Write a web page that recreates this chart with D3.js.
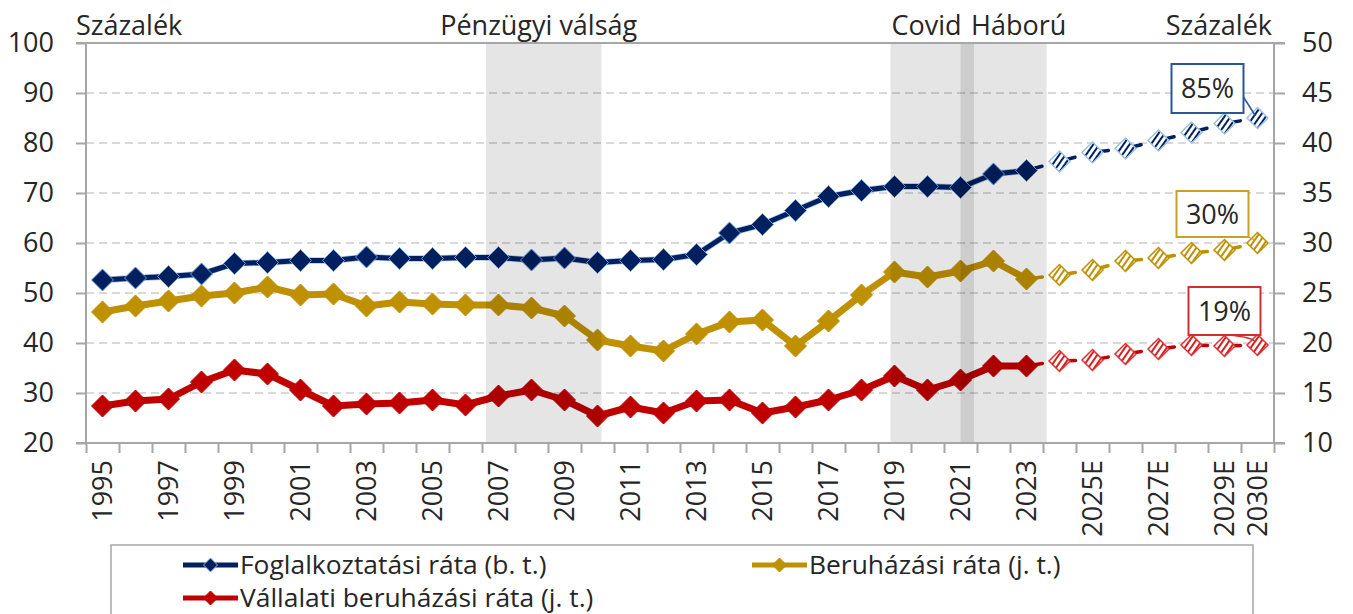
<!DOCTYPE html>
<meta charset="utf-8">
<script src="https://d3js.org/d3.v7.min.js"></script>
<body>
<div id="chart"></div>

<style>
  body { margin: 0; background: #fff; }
  text { font-family: "Open Sans", sans-serif; fill: #262626; }
</style>

<script>
// categories on the x axis
var years = ["1995","1996","1997","1998","1999","2000","2001","2002","2003","2004",
  "2005","2006","2007","2008","2009","2010","2011","2012","2013","2014",
  "2015","2016","2017","2018","2019","2020","2021","2022","2023"];
var forecastYears = ["2024E","2025E","2026E","2027E","2028E","2029E","2030E"];
var tickLabels = ["1995","1997","1999","2001","2003","2005","2007","2009","2011","2013",
  "2015","2017","2019","2021","2023","2025E","2027E","2029E","2030E"];

// Foglalkoztatási ráta, left axis (%)
var employment = [52.6, 53.0, 53.3, 53.8, 55.9, 56.1, 56.5, 56.5, 57.2, 56.9,
  56.9, 57.1, 57.1, 56.6, 57.0, 56.1, 56.5, 56.7, 57.7, 62.0,
  63.7, 66.5, 69.3, 70.5, 71.3, 71.3, 71.1, 73.8, 74.5];
var employmentForecast = [76.3, 78.1, 78.9, 80.5, 82.1, 83.9, 85.0];

// Beruházási ráta, right axis (%)
var investment = [23.1, 23.7, 24.2, 24.7, 25.0, 25.6, 24.8, 24.9, 23.7, 24.1,
  23.9, 23.8, 23.8, 23.5, 22.7, 20.3, 19.7, 19.2, 20.9, 22.1,
  22.3, 19.7, 22.2, 24.8, 27.1, 26.6, 27.2, 28.2, 26.4];
var investmentForecast = [26.8, 27.3, 28.2, 28.5, 29.0, 29.3, 30.0];

// Vállalati beruházási ráta, right axis (%)
var corporate = [13.7, 14.2, 14.4, 16.1, 17.3, 16.9, 15.3, 13.7, 13.9, 14.0,
  14.3, 13.8, 14.7, 15.3, 14.3, 12.7, 13.6, 13.0, 14.2, 14.3,
  13.0, 13.6, 14.3, 15.3, 16.7, 15.3, 16.3, 17.7, 17.7];
var corporateForecast = [18.2, 18.3, 18.9, 19.4, 19.8, 19.7, 19.8];

var leftTicks = [20, 30, 40, 50, 60, 70, 80, 90, 100];
var rightTicks = [10, 15, 20, 25, 30, 35, 40, 45, 50];

// shaded periods, in year units
var periods = [
  {label: "Pénzügyi válság", from: 2006.62, to: 2010.12},
  {label: "Covid", from: 2018.88, to: 2021.41},
  {label: "Háború", from: 2021.0, to: 2023.61}
];

var endLabels = ["85%", "30%", "19%"];

(function() {
  var W = 1353, H = 614;
  var left = 86, right = 1274, top = 43, bottom = 443;

  var svg = d3.select("#chart").append("svg")
    .attr("width", W).attr("height", H);

  var cats = years.concat(forecastYears);
  var x = d3.scaleBand().domain(cats).range([left, right]);
  var xYear = d3.scaleLinear().domain([1994.5, 2030.5]).range([left, right]);
  var yL = d3.scaleLinear().domain([20, 100]).range([bottom, top]);
  var yR = d3.scaleLinear().domain([10, 50]).range([bottom, top]);
  var cx = function(c) { return x(c) + x.bandwidth() / 2; };

  var navy = "#002060", gold = "#BF9000", red = "#C00000";

  // hatch patterns for forecast markers
  var defs = svg.append("defs");
  function hatch(id, color) {
    var p = defs.append("pattern").attr("id", id)
      .attr("patternUnits", "userSpaceOnUse")
      .attr("width", 5).attr("height", 5)
      .attr("patternTransform", "rotate(35)");
    p.append("rect").attr("width", 5).attr("height", 5).attr("fill", "#fff");
    p.append("rect").attr("width", 2).attr("height", 5).attr("fill", color);
  }
  hatch("hNavy", navy);
  hatch("hGold", gold);
  hatch("hRed", "#D42020");

  // gridlines
  svg.append("g").selectAll("line")
    .data(leftTicks.filter(function(d) { return d > 20 && d < 100; }))
    .enter().append("line")
      .attr("x1", left).attr("x2", right)
      .attr("y1", function(d) { return yL(d); })
      .attr("y2", function(d) { return yL(d); })
      .attr("stroke", "#D9D9D9").attr("stroke-width", 2)
      .attr("stroke-dasharray", "8,5");

  // diamonds
  function diamond(r) {
    return "M0," + (-r) + "L" + r + ",0L0," + r + "L" + (-r) + ",0Z";
  }

  var series = [
    {vals: employment, fc: employmentForecast, y: yL, color: navy, width: 5, edge: "#6FA0DC", hatch: "hNavy", fcEdge: "#9DC3E6"},
    {vals: investment, fc: investmentForecast, y: yR, color: gold, width: 7, edge: gold, hatch: "hGold", fcEdge: gold},
    {vals: corporate, fc: corporateForecast, y: yR, color: red, width: 7, edge: red, hatch: "hRed", fcEdge: "#E03030"}
  ];

  var plot = svg.append("g");
  series.forEach(function(s) {
    var pts = years.map(function(c, i) { return [cx(c), s.y(s.vals[i])]; });
    var fpts = forecastYears.map(function(c, i) { return [cx(c), s.y(s.fc[i])]; });

    if (s === series[0]) {
      plot.append("path").attr("d", d3.line()(pts))
        .attr("fill", "none").attr("stroke", "#A9C6EA")
        .attr("stroke-width", s.width + 1.5).attr("stroke-linejoin", "round");
    }
    plot.append("path").attr("d", d3.line()(pts))
      .attr("fill", "none").attr("stroke", s.color)
      .attr("stroke-width", s.width).attr("stroke-linejoin", "round");

    // short dashes leading from each point into the forecast
    var chain = [pts[pts.length - 1]].concat(fpts);
    for (var i = 0; i < chain.length - 1; i++) {
      plot.append("path").attr("d", d3.line()([chain[i], chain[i + 1]]))
        .attr("fill", "none").attr("stroke", s.color)
        .attr("stroke-width", 3.5).attr("stroke-linecap", "round")
        .attr("stroke-dasharray", "16,100");
    }

    plot.selectAll(null).data(pts).enter().append("path")
      .attr("d", diamond(11))
      .attr("transform", function(d) { return "translate(" + d[0] + "," + d[1] + ")"; })
      .attr("fill", s.color).attr("stroke", s.edge).attr("stroke-width", 1);

    plot.selectAll(null).data(fpts).enter().append("path")
      .attr("d", diamond(10.5))
      .attr("transform", function(d) { return "translate(" + d[0] + "," + d[1] + ")"; })
      .attr("fill", "url(#" + s.hatch + ")").attr("stroke", s.fcEdge).attr("stroke-width", 1.5);
  });

  // shaded periods on top (semi-transparent, overlap gets darker)
  svg.append("g").selectAll("rect").data(periods).enter().append("rect")
    .attr("x", function(d) { return xYear(d.from); })
    .attr("width", function(d) { return xYear(d.to) - xYear(d.from); })
    .attr("y", top).attr("height", bottom - top)
    .attr("fill", "#000").attr("fill-opacity", 0.1);

  // frame
  var axisColor = "#A6A6A6";
  svg.append("rect").attr("x", left).attr("y", top)
    .attr("width", right - left).attr("height", bottom - top)
    .attr("fill", "none").attr("stroke", axisColor).attr("stroke-width", 2);

  // left axis
  var gL = svg.append("g").attr("transform", "translate(" + left + ",0)")
    .call(d3.axisLeft(yL).tickValues(leftTicks).tickSize(10).tickPadding(22));
  // right axis
  var gR = svg.append("g").attr("transform", "translate(" + right + ",0)")
    .call(d3.axisRight(yR).tickValues(rightTicks).tickSize(11).tickPadding(17));
  // x boundary ticks
  var gT = svg.append("g").attr("transform", "translate(0," + bottom + ")")
    .call(d3.axisBottom(xYear).tickValues(d3.range(1994.5, 2031, 1)).tickSize(10).tickFormat(""));
  // x labels
  var gX = svg.append("g").attr("transform", "translate(0," + bottom + ")")
    .call(d3.axisBottom(x).tickValues(tickLabels).tickSize(0));
  gX.selectAll("text")
    .attr("transform", "rotate(-90)")
    .attr("text-anchor", "end")
    .attr("x", -17).attr("y", 0).attr("dy", "0.36em");

  [gL, gR, gT, gX].forEach(function(g) {
    g.select(".domain").remove();
    g.selectAll("line").attr("stroke", axisColor).attr("stroke-width", 2);
    g.selectAll("text").style("font-size", "27px").attr("fill", "#262626");
    g.attr("font-family", null);
  });
  svg.append("line").attr("x1", left - 10).attr("x2", right + 11)
    .attr("y1", bottom).attr("y2", bottom).attr("stroke", axisColor).attr("stroke-width", 2);
  svg.append("line").attr("x1", left - 10).attr("x2", right + 11)
    .attr("y1", top).attr("y2", top).attr("stroke", axisColor).attr("stroke-width", 2);

  // axis unit labels
  svg.append("text").attr("x", 76).attr("y", 35).style("font-size", "27px").text("Százalék");
  svg.append("text").attr("x", 1272).attr("y", 35).attr("text-anchor", "end")
    .style("font-size", "27px").text("Százalék");

  // period labels
  var pl = [
    {x: (xYear(periods[0].from) + xYear(periods[0].to)) / 2 - 5, anchor: "middle"},
    {x: xYear(periods[1].from) + 1, anchor: "start"},
    {x: xYear(periods[1].to) - 3, anchor: "start"}
  ];
  periods.forEach(function(p, i) {
    svg.append("text").attr("x", pl[i].x).attr("y", 35)
      .attr("text-anchor", pl[i].anchor).style("font-size", "27px").text(p.label);
  });

  // end-of-forecast labels with leader lines
  var last = forecastYears[forecastYears.length - 1];
  var boxes = [
    {y: yL(employmentForecast[6]), dx: -86, dy: -54, w: 72, h: 49, color: "#2F5597", lead: [72, 33]},
    {y: yR(investmentForecast[6]), dx: -81, dy: -52, w: 72, h: 46, color: "#C9A020", lead: [72, 46]},
    {y: yR(corporateForecast[6]), dx: -69, dy: -58, w: 72, h: 48, color: "#D03030", lead: [40, 48]}
  ];
  boxes.forEach(function(b, i) {
    var mx = cx(last), my = b.y;
    var bx = mx + b.dx, by = my + b.dy;
    var lx = bx + b.lead[0], ly = by + b.lead[1];
    var path = i === 0
      ? "M" + lx + "," + ly + "L" + (mx - 2) + "," + (my - 2)
      : "M" + lx + "," + ly + "Q" + (mx - 6) + "," + (ly + 2) + " " + (mx - 2) + "," + (my - 3);
    svg.append("path").attr("d", path)
      .attr("fill", "none").attr("stroke", b.color).attr("stroke-width", 1.5);
    svg.append("rect").attr("x", bx).attr("y", by).attr("width", b.w).attr("height", b.h)
      .attr("fill", "#fff").attr("stroke", b.color).attr("stroke-width", 2);
    svg.append("text").attr("x", bx + b.w / 2).attr("y", by + b.h / 2).attr("dy", "0.36em")
      .attr("text-anchor", "middle").style("font-size", "27px").text(endLabels[i]);
  });

  // legend
  svg.append("rect").attr("x", 111).attr("y", 545).attr("width", 1142).attr("height", 90)
    .attr("fill", "#fff").attr("stroke", axisColor).attr("stroke-width", 1.5);
  var legend = [
    {name: "Foglalkoztatási ráta (b. t.)", color: navy, edge: "#8DB4E2", x: 183, y: 565},
    {name: "Beruházási ráta (j. t.)", color: gold, edge: gold, x: 752, y: 565},
    {name: "Vállalati beruházási ráta (j. t.)", color: red, edge: red, x: 183, y: 598}
  ];
  legend.forEach(function(l) {
    svg.append("line").attr("x1", l.x).attr("x2", l.x + 55).attr("y1", l.y).attr("y2", l.y)
      .attr("stroke", l.color).attr("stroke-width", 5);
    svg.append("path").attr("d", diamond(7))
      .attr("transform", "translate(" + (l.x + 27.5) + "," + l.y + ")")
      .attr("fill", l.color).attr("stroke", l.edge).attr("stroke-width", 1);
    svg.append("text")
      .attr("transform", "translate(" + (l.x + 57) + "," + l.y + ") scale(1.1,1.08)")
      .attr("dy", "0.36em")
      .style("font-size", "24px").text(l.name);
  });
})();
</script>
</body>
